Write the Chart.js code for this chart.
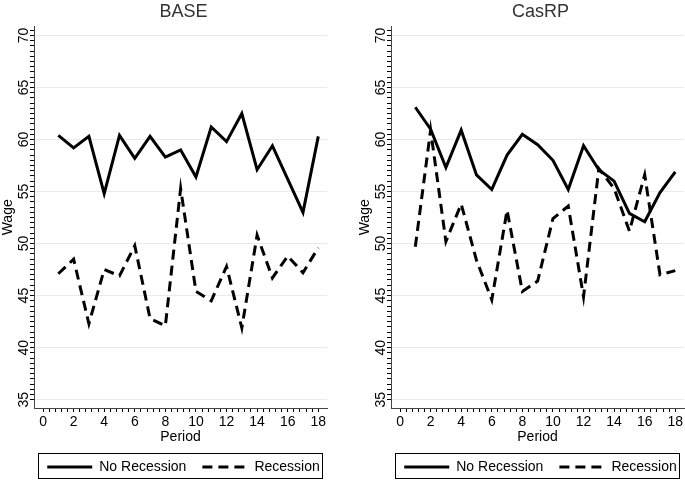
<!DOCTYPE html>
<html>
<head>
<meta charset="utf-8">
<script src="https://cdn.jsdelivr.net/npm/chart.js@4.4.0/dist/chart.umd.min.js"></script>
<style>
  html, body { margin: 0; padding: 0; background: #fff; overflow: hidden; }
  body { width: 685px; height: 480px; position: relative; }
  .panel { position: absolute; top: 0; width: 367px; height: 480px; }
  #basePanel { left: 0; }
  #casrpPanel { left: 357px; }
</style>
</head>
<body>
<div class="panel" id="basePanel"><canvas id="baseChart"></canvas></div>
<div class="panel" id="casrpPanel"><canvas id="casrpChart"></canvas></div>
<script>
const periods = [1, 2, 3, 4, 5, 6, 7, 8, 9, 10, 11, 12, 13, 14, 15, 16, 17, 18];

const baseNoRecession = [60.4, 59.2, 60.3, 54.8, 60.4, 58.2, 60.3, 58.3, 59.0, 56.4, 61.2, 59.8, 62.5, 57.1, 59.4, 56.2, 53.0, 60.3];
const baseRecession = [47.1, 48.5, 42.3, 47.5, 46.9, 49.8, 42.8, 42.1, 55.3, 45.4, 44.5, 47.8, 41.9, 50.8, 46.7, 48.8, 47.2, 49.6];

const casrpNoRecession = [63.1, 61.0, 57.3, 60.9, 56.6, 55.2, 58.5, 60.5, 59.5, 58.0, 55.2, 59.4, 57.1, 56.0, 52.9, 52.1, 54.9, 56.9];
const casrpRecession = [49.7, 60.9, 50.2, 53.8, 48.4, 44.6, 53.2, 45.4, 46.4, 52.4, 53.6, 44.9, 57.2, 55.3, 51.2, 56.6, 47.0, 47.4];

const xMajorTicks = [0, 2, 4, 6, 8, 10, 12, 14, 16, 18];
const yMajorTicks = [35, 40, 45, 50, 55, 60, 65, 70];
const xMinorStep = 0.4;
const yMinorStep = 0.5;

Chart.defaults.font.family = '"Liberation Sans", Arial, sans-serif';
Chart.defaults.color = '#000';

const isMajor = (list, v) => list.some(m => Math.abs(m - v) < 1e-6);

const buildTicks = (first, last, step) => {
  const out = [];
  const n = Math.round((last - first) / step);
  for (let i = 0; i <= n; i++) out.push({ value: Math.round((first + i * step) * 100) / 100 });
  return out;
};

// frame around the legend, like Stata does
const legendFrame = {
  id: 'legendFrame',
  afterDraw(chart) {
    const { ctx, chartArea, legend } = chart;
    const hb = legend.legendHitBoxes[0];
    if (!hb) return;
    const left = Math.round(chartArea.left) + 4;
    const right = Math.round(chartArea.right) - 5;
    const top = Math.round(hb.top) - 7;
    ctx.save();
    ctx.strokeStyle = '#000';
    ctx.lineWidth = 1;
    ctx.strokeRect(left + 0.5, top + 0.5, right - left, 25);
    ctx.restore();
  }
};

const makeConfig = (title, noRec, rec) => ({
  type: 'line',
  data: {
    datasets: [
      {
        label: 'No Recession',
        data: periods.map((p, i) => ({ x: p, y: noRec[i] })),
        borderColor: '#000',
        backgroundColor: '#000',
        borderWidth: 3,
        pointRadius: 0,
        tension: 0,
      },
      {
        label: 'Recession',
        data: periods.map((p, i) => ({ x: p, y: rec[i] })),
        borderColor: '#000',
        backgroundColor: '#000',
        borderWidth: 3,
        borderDash: [10, 6],
        pointRadius: 0,
        tension: 0,
      },
    ],
  },
  options: {
    responsive: true,
    maintainAspectRatio: false,
    animation: false,
    layout: { padding: { left: 0, right: 0, top: 0, bottom: -4 } },
    plugins: {
      title: {
        display: true,
        text: title,
        color: '#333',
        font: { size: 18, weight: 'normal' },
        padding: { top: 1, bottom: 4 },
      },
      legend: {
        position: 'bottom',
        labels: {
          boxWidth: 45,
          boxHeight: 0,
          padding: 16,
          color: '#000',
          font: { size: 14 },
        },
      },
      tooltip: { enabled: false },
    },
    scales: {
      x: {
        type: 'linear',
        min: -0.59,
        max: 18.57,
        afterBuildTicks: (scale) => { scale.ticks = buildTicks(0, 18, xMinorStep); },
        afterFit: (scale) => { scale.height = 36; },
        ticks: {
          autoSkip: false,
          maxRotation: 0,
          padding: 3,
          font: { size: 14, lineHeight: 1 },
          color: '#000',
          callback: (v) => (isMajor(xMajorTicks, v) ? String(Math.round(v)) : ''),
        },
        grid: {
          drawOnChartArea: false,
          tickLength: 4,
          tickColor: '#000',
        },
        border: { color: '#444', width: 1 },
        title: {
          display: true,
          text: 'Period',
          font: { size: 14, lineHeight: 1 },
          color: '#000',
          padding: { top: 0, bottom: 0 },
        },
      },
      y: {
        type: 'linear',
        min: 34.2,
        max: 70.85,
        afterBuildTicks: (scale) => { scale.ticks = buildTicks(35, 70.5, yMinorStep); },
        afterFit: (scale) => { scale.width = 34; },
        ticks: {
          autoSkip: false,
          minRotation: 90,
          maxRotation: 90,
          crossAlign: 'center',
          padding: -2,
          font: { size: 14 },
          color: '#000',
          callback: (v) => (isMajor(yMajorTicks, v) ? String(Math.round(v)) : ''),
        },
        grid: {
          color: (c) => (c.tick && isMajor(yMajorTicks, c.tick.value) ? '#eaeaea' : 'rgba(0,0,0,0)'),
          tickLength: 4,
          tickColor: '#000',
        },
        border: { color: '#444', width: 1 },
        title: {
          display: true,
          text: 'Wage',
          font: { size: 14 },
          color: '#000',
          padding: { top: 0, bottom: 0 },
        },
      },
      // empty right margin so the legend centres under the plot
      yPad: {
        position: 'right',
        display: true,
        ticks: { display: false },
        grid: { display: false },
        border: { display: false },
        afterFit: (scale) => { scale.width = 40; },
      },
    },
  },
  plugins: [legendFrame],
});

new Chart(document.getElementById('baseChart'), makeConfig('BASE', baseNoRecession, baseRecession));
new Chart(document.getElementById('casrpChart'), makeConfig('CasRP', casrpNoRecession, casrpRecession));
</script>
</body>
</html>
